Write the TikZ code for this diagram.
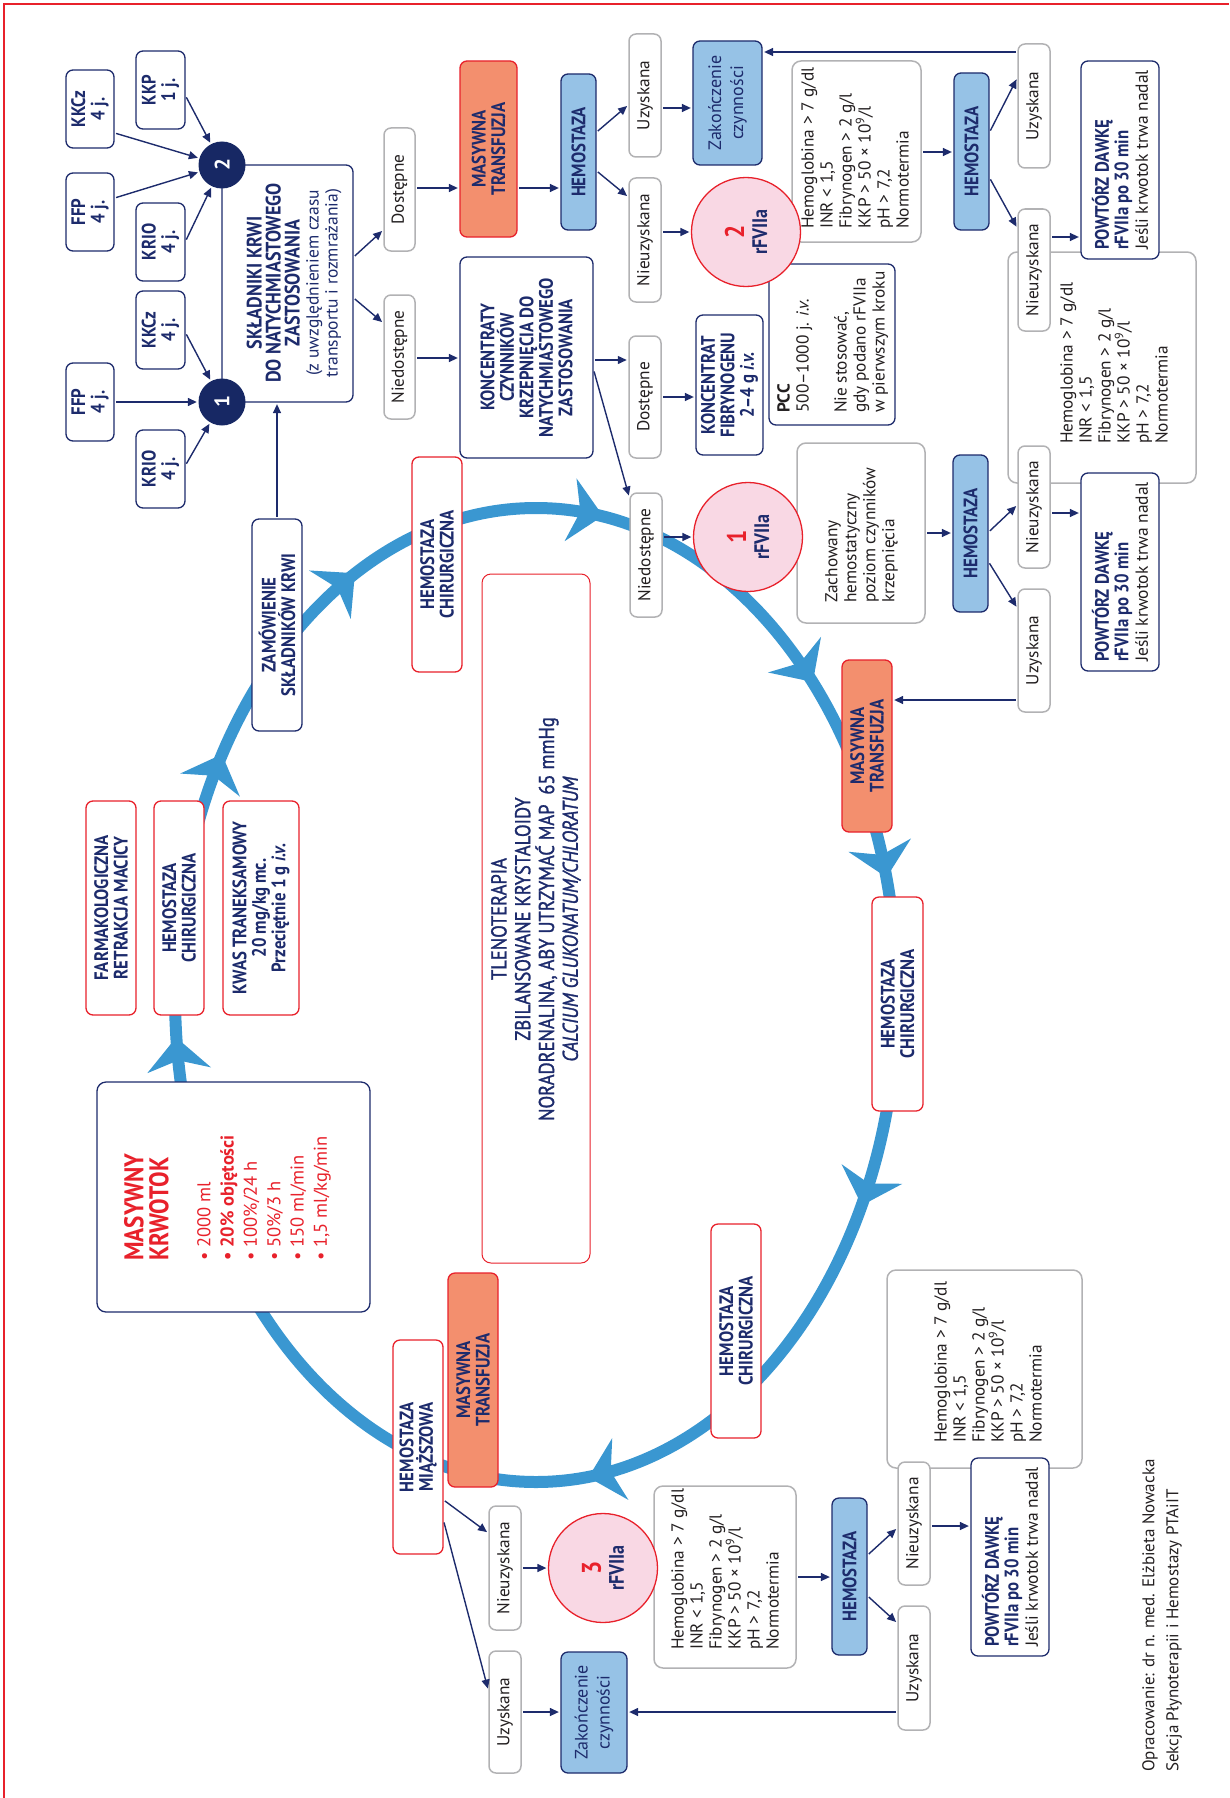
\documentclass[tikz,border=0pt]{standalone}
\usepackage{fontspec}
\setmainfont{PT Sans}
\newfontfamily\condf[FakeStretch=0.86]{PT Sans}
\newfontfamily\condsb[FakeStretch=0.86,FakeBold=1.3]{PT Sans}
\usetikzlibrary{arrows.meta}
\definecolor{navy}{RGB}{29,43,108}
\definecolor{navyfill}{RGB}{23,40,100}
\definecolor{redc}{RGB}{232,33,43}
\definecolor{salmon}{RGB}{243,143,110}
\definecolor{lblue}{RGB}{150,194,230}
\definecolor{pinkc}{RGB}{249,216,228}
\definecolor{grayb}{RGB}{178,178,180}
\definecolor{cblue}{RGB}{58,151,209}
\definecolor{textc}{RGB}{35,31,32}
\newcommand\fb{\condf\bfseries\fontsize{19.5}{19.5}\selectfont}
\newcommand\fr{\normalfont\fontsize{17.3}{19}\selectfont}
\newcommand\BX[7]{\node[#1, minimum width={(#6-#4)*1pt}, minimum height={(#5-#3)*1pt}] (#2) at ({(#3+#5)/2},{(#4+#6)/2}) {#7};}
\newcommand\infotext{Hemoglobina > 7 g/dl\\INR < 1,5\\Fibrynogen > 2 g/l\\KKP > 50 × 10\textsuperscript{9}/l\\pH > 7,2\\Normotermia}
\newcommand\powtext{{\fb POWTÓRZ DAWKĘ}\\{\fb rFVIIa po 30 min}\\{\color{textc}\normalfont\fontsize{17.5}{19}\selectfont Jeśli krwotok trwa nadal}}
\tikzset{
 bxs/.style={rotate=90, inner sep=0pt, align=center, rounded corners=7pt, line width=1.3pt},
 nbox/.style={bxs, draw=navy, fill=white, text=navy, font=\fb},
 rbox/.style={bxs, draw=redc, fill=white, text=navy, font=\fb},
 sbox/.style={bxs, draw=redc, fill=salmon, text=navy, font=\fb},
 hbox/.style={bxs, draw=navy, fill=lblue, text=navy, font=\fb},
 zbox/.style={bxs, draw=navy, fill=lblue, text=navy, font=\normalfont\fontsize{18}{22}\selectfont},
 gbox/.style={bxs, draw=grayb, line width=1.5pt, fill=white, text=textc, font=\fr},
 ncirc/.style={circle, fill=navyfill, minimum size=47pt, inner sep=0pt, rotate=90, text=white, font=\bfseries\fontsize{21}{21}\selectfont},
 fcirc/.style={circle, draw=redc, line width=1.3pt, fill=pinkc, minimum size=109pt, inner sep=0pt, rotate=90, align=center, text=navy, font=\condf\bfseries\fontsize{21}{23}\selectfont},
 tx/.style={rotate=90, inner sep=0pt, align=left, anchor=north west, text=textc, font=\fr},
 arr/.style={draw=navy, line width=1.4pt, shorten >=1.5pt, shorten <=1.5pt, -{Triangle[length=9pt,width=8pt]}},
}
\begin{document}
\begin{tikzpicture}[x=1pt,y=-1pt]
\useasboundingbox (0,0) rectangle (1229,1798);
% page frame
\draw[redc, line width=2.5pt] (4,1798) -- (4,4) -- (1229,4);
% big cycle
\draw[cblue, line width=12pt] (536,995) ellipse [x radius=361, y radius=487];
\foreach \t in {173,207.5,237.5,278,317.8,344,23.5,79} {
  \pgfmathsetmacro\ang{atan2(-487*cos(\t), -361*sin(\t))}
  \fill[cblue, shift={({536+361*cos(\t)},{995+487*sin(\t)})}, rotate=\ang]
    (17pt,0pt) -- (-16pt,32pt) -- (-6pt,0pt) -- (-16pt,-32pt) -- cycle;
}
% large grey boxes that lie beneath others
\BX{gbox, rounded corners=9pt}{info2}{1008}{252}{1196}{483}{}
\BX{gbox, rounded corners=9pt}{info4}{887}{1270}{1082}{1468}{}
% top-left cluster
\BX{nbox}{kkcz2}{66}{70}{114}{148}{KKCz\\4 j.}
\BX{nbox}{kkp}{136}{51}{185}{129}{KKP\\1 j.}
\BX{nbox}{ffp2}{66}{173}{114}{251}{FFP\\4 j.}
\BX{nbox}{krio2}{136}{203}{185}{281}{KRIO\\4 j.}
\BX{nbox}{kkcz1}{136}{291}{185}{369}{KKCz\\4 j.}
\BX{nbox}{ffp1}{66}{363}{114}{441}{FFP\\4 j.}
\BX{nbox}{krio1}{136}{430}{185}{508}{KRIO\\4 j.}
\BX{nbox}{sklad}{222}{165}{353}{402}{}
\BX{gbox}{dost1}{384}{128}{415}{251}{Dostępne}
\BX{gbox}{niedost1}{384}{295}{415}{419}{Niedostępne}
\BX{nbox}{zam}{252}{519}{302}{731}{ZAMÓWIENIE\\SKŁADNIKÓW KRWI}
% top chain
\BX{sbox}{mt1}{460}{61}{517}{237}{MASYWNA\\TRANSFUZJA}
\BX{hbox}{hem1}{561}{74}{596}{230}{HEMOSTAZA}
\BX{gbox}{uzy1}{629}{34}{661}{157}{Uzyskana}
\BX{gbox}{nieuzy1}{629}{178}{661}{302}{Nieuzyskana}
\BX{zbox}{zak1}{693}{41}{762}{165}{Zakończenie\\czynności}
\BX{gbox, rounded corners=9pt}{info1}{792}{61}{921}{242}{}
\BX{hbox}{hem2}{954}{73}{989}{230}{HEMOSTAZA}
\BX{gbox}{uzy2}{1018}{44}{1050}{168}{Uzyskana}
\BX{gbox}{nieuzy2}{1018}{209}{1050}{331}{Nieuzyskana}
\BX{nbox, align=left}{pow1}{1081}{61}{1159}{259}{\powtext}
% middle chain
\BX{nbox}{konc}{460}{257}{593}{458}{KONCENTRATY\\CZYNNIKÓW\\KRZEPNIĘCIA DO\\NATYCHMIASTOWEGO\\ZASTOSOWANIA}
\BX{gbox}{dost2}{629}{336}{661}{458}{Dostępne}
\BX{gbox}{niedost2}{630}{493}{662}{617}{Niedostępne}
\BX{nbox}{fibr}{696}{315}{763}{455}{KONCENTRAT\\FIBRYNOGENU\\2–4 g \textit{i.v.}}
\BX{nbox}{pcc}{769}{264}{895}{425}{}
\BX{gbox, rounded corners=9pt}{zach}{797}{443}{925}{623}{}
\BX{hbox}{hem3}{953}{455}{988}{612}{HEMOSTAZA}
\BX{gbox}{nieuzy3}{1018}{446}{1050}{568}{Nieuzyskana}
\BX{nbox, align=left}{pow2}{1081}{473}{1159}{671}{\powtext}
\BX{gbox}{uzy3}{1018}{589}{1050}{712}{Uzyskana}
\BX{sbox}{mt2}{842}{660}{892}{832}{MASYWNA\\TRANSFUZJA}
\BX{rbox}{hcR}{872}{897}{923}{1111}{HEMOSTAZA\\CHIRURGICZNA}
\BX{rbox}{hcT}{412}{457}{462}{672}{HEMOSTAZA\\CHIRURGICZNA}
% left side
\BX{rbox}{farm}{86}{801}{136}{1015}{FARMAKOLOGICZNA\\RETRAKCJA MACICY}
\BX{rbox}{hcL}{154}{801}{204}{1015}{HEMOSTAZA\\CHIRURGICZNA}
\BX{rbox}{kwas}{223}{801}{299}{1015}{KWAS TRANEKSAMOWY\\20 mg/kg mc.\\Przeciętnie 1 g \textit{i.v.}}
\BX{nbox, rounded corners=9pt}{krw}{97}{1082}{370}{1312}{}
\BX{rbox, rounded corners=9pt, line width=1pt}{cbox}{482}{574}{590}{1263}{}
% bottom chain
\BX{rbox}{hcB}{711}{1224}{761}{1438}{HEMOSTAZA\\CHIRURGICZNA}
\BX{sbox}{mt3}{448}{1273}{498}{1487}{MASYWNA\\TRANSFUZJA}
\BX{rbox}{miaz}{393}{1340}{443}{1554}{HEMOSTAZA\\MIĄŻSZOWA}
\BX{gbox}{nieuzy4}{489}{1506}{521}{1630}{Nieuzyskana}
\BX{gbox}{uzy4}{489}{1651}{521}{1773}{Uzyskana}
\BX{zbox}{zak2}{561}{1652}{627}{1773}{Zakończenie\\czynności}
\BX{gbox, rounded corners=9pt}{info3}{654}{1486}{796}{1668}{}
\BX{hbox}{hem4}{832}{1498}{867}{1655}{HEMOSTAZA}
\BX{gbox}{nieuzy5}{898}{1462}{930}{1585}{Nieuzyskana}
\BX{gbox}{uzy5}{898}{1606}{930}{1730}{Uzyskana}
\BX{nbox, align=left}{pow3}{971}{1458}{1049}{1656}{\powtext}
% circles
\node[ncirc] (c2) at (222,165) {2};
\node[ncirc] (c1) at (222,402) {1};
\node[fcirc] (f2) at (746,232) {{\color{redc}\fontsize{27}{25}\selectfont 2}\\rFVIIa};
\node[fcirc] (f1) at (748,537) {{\color{redc}\fontsize{27}{25}\selectfont 1}\\rFVIIa};
\node[fcirc] (f3) at (603,1568) {{\color{redc}\fontsize{27}{25}\selectfont 3}\\rFVIIa};
% free texts
\node[rotate=90, inner sep=0pt, align=center, text=navy, font=\condf\bfseries\fontsize{21}{19}\selectfont] (skladt) at (294,283)
  {SKŁADNIKI KRWI\\DO NATYCHMIASTOWEGO\\ZASTOSOWANIA\\{\normalfont\fontsize{17.5}{19}\selectfont (z uwzględnieniem czasu}\\{\normalfont\fontsize{17.5}{19}\selectfont transportu i rozmrażania)}};
\node[tx] (pcct) at (777,413) {{\bfseries PCC}\\500–1000 j. \textit{i.v.}\\[19pt]Nie stosować,\\gdy podano rFVIIa\\w pierwszym kroku};
\node[tx] (zacht) at (825,603) {Zachowany\\hemostatyczny\\poziom czynników\\krzepnięcia};
\node[tx] (info1t) at (801,229) {\infotext};
\node[tx] (info2t) at (1060,444) {\infotext};
\node[tx] (info3t) at (671,1650) {\infotext};
\node[tx] (info4t) at (934,1443) {\infotext};
\node[tx, text=redc, font=\condf\bfseries\fontsize{27}{25}\selectfont] (krwt) at (124,1261) {MASYWNY\\KRWOTOK};
\node[tx, text=redc, font=\fontsize{18.5}{23.3}\selectfont] (krwb) at (197,1261)
  {• 2000 ml\\\textbf{• 20\% objętości}\\• 100\%/24 h\\• 50\%/3 h\\• 150 ml/min\\• 1,5 ml/kg/min};
\node[rotate=90, inner sep=0pt, align=center, text=navy, font=\condsb\fontsize{21.5}{23.8}\selectfont] (ctext) at (536,919)
  {TLENOTERAPIA\\ZBILANSOWANE KRYSTALOIDY\\NORADRENALINA, ABY UTRZYMAĆ MAP\ \ 65 mmHg\\\textit{CALCIUM GLUKONATUM/CHLORATUM}};
\node[tx, font=\fontsize{17}{24}\selectfont] (cred) at (1142,1772)
  {Opracowanie: dr n. med. Elżbieta Nowacka\\Sekcja Płynoterapii i Hemostazy PTAiIT};
% connectors
\draw[arr] (kkcz2.south |- 0,133) -- (c2);
\draw[arr] (ffp2.south |- 0,198) -- (c2);
\draw[arr] (krio2.south |- 0,241) -- (c2);
\draw[arr] (kkp.south |- 0,96) -- (c2);
\draw[arr] (ffp1.south |- 0,402) -- (c1);
\draw[arr] (kkcz1.south |- 0,333) -- (c1);
\draw[arr] (krio1.south |- 0,465) -- (c1);
\draw[arr] (zam.east) -- (zam.east |- sklad.west);
\draw[arr] (sklad.south |- 0,257) -- (dost1.north |- 0,230);
\draw[arr] (sklad.south |- 0,298) -- (niedost1.north |- 0,323);
\draw[arr] (dost1.south |- 0,188) -- (mt1.north |- 0,188);
\draw[arr] (niedost1.south |- 0,358) -- (konc.north |- 0,358);
\draw[arr] (mt1.south |- 0,188) -- (hem1.north |- 0,188);
\draw[arr] (hem1.south |- 0,132) -- (uzy1.north |- 0,105);
\draw[arr] (hem1.south |- 0,171) -- (nieuzy1.north |- 0,197);
\draw[arr] (uzy1.south |- 0,108) -- (zak1.north |- 0,108);
\draw[arr] (nieuzy1.south |- 0,232) -- (f2);
\draw[arr] (konc.south |- 0,360) -- (dost2.north |- 0,360);
\draw[arr] (konc.south |- 0,370) -- (niedost2.north |- 0,497);
\draw[arr] (dost2.south |- 0,397) -- (fibr.north |- 0,397);
\draw[arr] (niedost2.south |- 0,537) -- (f1);
\draw[arr] (info1.south |- 0,152) -- (hem2.north |- 0,152);
\draw[arr] (hem2.south |- 0,132) -- (uzy2.north |- 0,78);
\draw[arr] (hem2.south |- 0,178) -- (nieuzy2.north |- 0,228);
\draw[arr] (nieuzy2.south |- 0,237) -- (pow1.north |- 0,237);
\draw[arr] (uzy2.north |- 0,52) -- (zak1.south |- 0,52);
\draw[arr] (zach.south |- 0,533) -- (hem3.north |- 0,533);
\draw[arr] (hem3.south |- 0,532) -- (nieuzy3.north |- 0,505);
\draw[arr] (hem3.south |- 0,562) -- (uzy3.north |- 0,608);
\draw[arr] (nieuzy3.south |- 0,513) -- (pow2.north |- 0,513);
\draw[arr] (uzy3.north |- 0,700) -- (mt2.south |- 0,700);
\draw[arr] (miaz.south |- 0,1500) -- (nieuzy4.north |- 0,1533);
\draw[arr] (miaz.south |- 0,1521) -- (uzy4.north |- 0,1690);
\draw[arr] (nieuzy4.south |- 0,1568) -- (f3);
\draw[arr] (uzy4.south |- 0,1712) -- (zak2.north |- 0,1712);
\draw[arr] (info3.south |- 0,1577) -- (hem4.north |- 0,1577);
\draw[arr] (hem4.south |- 0,1555) -- (nieuzy5.north |- 0,1528);
\draw[arr] (hem4.south |- 0,1596) -- (uzy5.north |- 0,1623);
\draw[arr] (nieuzy5.south |- 0,1526) -- (pow3.north |- 0,1526);
\draw[arr] (uzy5.north |- 0,1712) -- (zak2.south |- 0,1712);
\end{tikzpicture}
\end{document}
